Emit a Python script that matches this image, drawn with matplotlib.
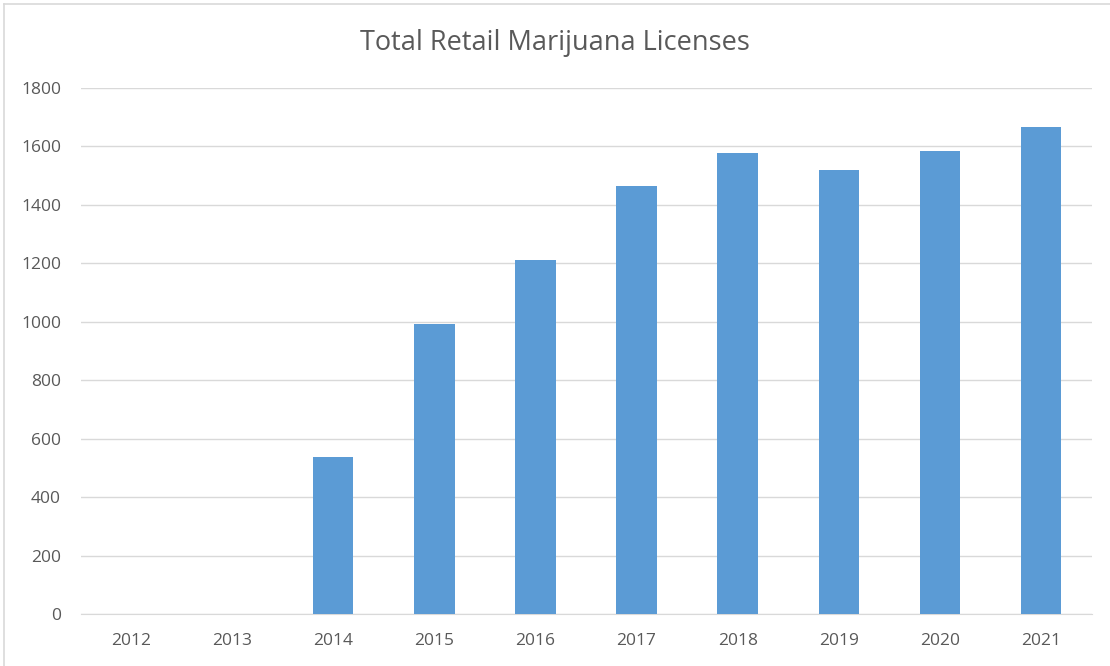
import matplotlib.pyplot as plt
from matplotlib.lines import Line2D

# Licence counts by year
years = ['2012', '2013', '2014', '2015', '2016', '2017', '2018', '2019', '2020', '2021']
licenses = [0, 0, 538, 992, 1212, 1466, 1578, 1520, 1584, 1665]

plt.rcParams['font.family'] = ['Open Sans', 'DejaVu Sans']

fig = plt.figure(figsize=(11.1, 6.66), dpi=100)
ax = fig.add_axes([80.5 / 1110, 52 / 666, 1011 / 1110, 526 / 666])

x = range(len(years))
ax.bar(x, licenses, width=0.4, color='#5b9bd5', zorder=3)

ax.set_xlim(-0.5, len(years) - 0.5)
ax.set_ylim(0, 1800)
ax.set_yticks(range(0, 1801, 200))
ax.set_xticks(list(x))
ax.set_xticklabels(years)

ax.grid(axis='y', color='#d9d9d9', linewidth=1, zorder=0)
for side in ['top', 'right', 'left']:
    ax.spines[side].set_visible(False)
ax.spines['bottom'].set_color('#d9d9d9')
ax.tick_params(axis='both', length=0, labelsize=12.5, labelcolor='#595959')
ax.tick_params(axis='y', pad=14)
ax.tick_params(axis='x', pad=14)

fig.text(0.5, 1 - 43 / 666, 'Total Retail Marijuana Licenses', ha='center', va='center',
         fontsize=19.5, color='#595959')

# chart frame
fig.add_artist(Line2D([4 / 1110, 1], [1 - 4 / 666, 1 - 4 / 666], color='#d9d9d9', linewidth=1.2))
fig.add_artist(Line2D([4 / 1110, 4 / 1110], [0, 1 - 4 / 666], color='#d9d9d9', linewidth=1.2))

fig.savefig('out.png', dpi=100, facecolor='white')
